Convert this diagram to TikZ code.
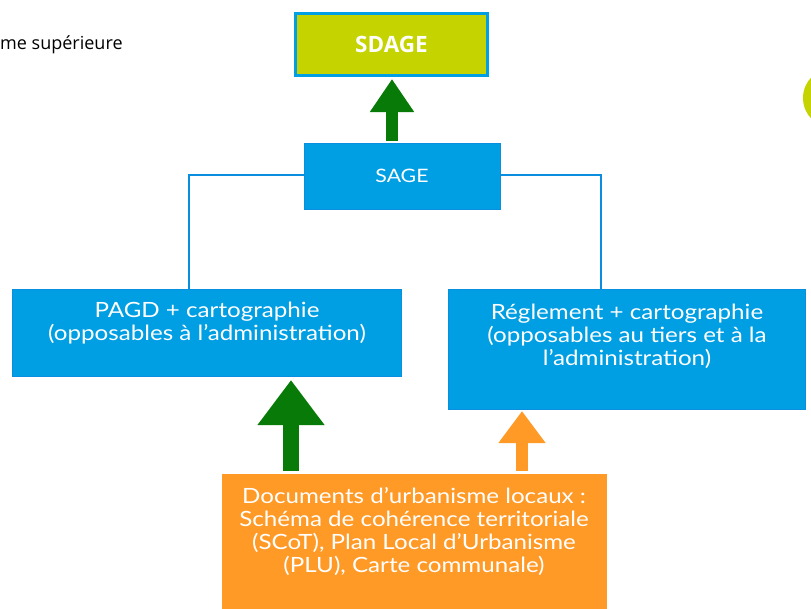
\documentclass[tikz,border=0pt]{standalone}
\usepackage{fontspec}
\setmainfont[FakeStretch=1.15]{Lato}
\newfontfamily\smallfont{Open Sans}
\usetikzlibrary{arrows.meta}
\definecolor{boxblue}{HTML}{009FE3}
\definecolor{edgeblue}{HTML}{0A8FE0}
\definecolor{lime}{HTML}{C5D400}
\definecolor{orng}{HTML}{FF9A27}
\definecolor{grn}{HTML}{077A07}
\tikzset{
  bluebox/.style={draw=edgeblue, line width=1pt, fill=boxblue, inner sep=0pt},
  txt/.style={text=white, align=center, font=\fontsize{21}{23}\selectfont, inner sep=0pt},
  link/.style={draw=edgeblue, line width=2.5pt},
}
\begin{document}
\begin{tikzpicture}[x=1pt,y=-1pt]
\useasboundingbox (0,0) rectangle (811,608);
% partial circle at the right edge
\begin{scope}
\clip (0,0) rectangle (811,608);
\fill[lime] (833,98) circle (30);
\end{scope}
% top-left clipped text
\node[anchor=west, inner sep=0pt, font=\smallfont\fontsize{18}{21}\selectfont] (norme) at (0,45) {me supérieure};
% SDAGE
\node[draw=boxblue, line width=3pt, fill=lime, minimum width=192, minimum height=62, inner sep=0pt,
      text=white, font=\smallfont\bfseries\fontsize{22.5}{26}\selectfont] (sdage) at (391.5,44.5) {SDAGE};
% SAGE
\node[bluebox, minimum width=196, minimum height=66] (sage) at (402,176) {};
\node[txt, font=\fontsize{18.5}{22}\selectfont] (sagetxt) at (402,176) {SAGE};
% PAGD
\node[bluebox, minimum width=389, minimum height=87] (pagd) at (206.5,332.5) {};
\node[txt] (pagdtxt) at (207,323) {PAGD + cartographie\\(opposables à l’administration)};
% Reglement
\node[bluebox, minimum width=357, minimum height=120] (regl) at (626.5,349) {};
\node[txt] (regltxt) at (627,336) {Réglement + cartographie\\(opposables au tiers et à la\\l’administration)};
% Orange
\node[fill=orng, minimum width=385, minimum height=138, inner sep=0pt] (urba) at (414.5,543) {};
\node[txt] (urbatxt) at (414,532) {Documents d’urbanisme locaux :\\Schéma de cohérence territoriale\\(SCoT), Plan Local d'Urbanisme\\(PLU), Carte communale)};
% links SAGE -> boxes
\coordinate (lk) at (189,175);
\coordinate (rk) at (601,175);
\draw[link] (sage.west |- lk) -- (lk) -- (lk |- pagd.north);
\draw[link] (sage.east |- rk) -- (rk) -- (rk |- regl.north);
% arrows
\coordinate (g0) at (392,141);
\draw[grn, line width=12pt, -{Triangle[width=42pt,length=33pt]}] (g0) -- (392,79);
\coordinate (g1) at (291,471);
\draw[grn, line width=16pt, -{Triangle[width=64pt,length=45pt]}] (g1) -- (291,380);
\coordinate (o1) at (522,471);
\draw[orng, line width=12pt, -{Triangle[width=45pt,length=32pt]}] (o1) -- (522,411);
\end{tikzpicture}
\end{document}
